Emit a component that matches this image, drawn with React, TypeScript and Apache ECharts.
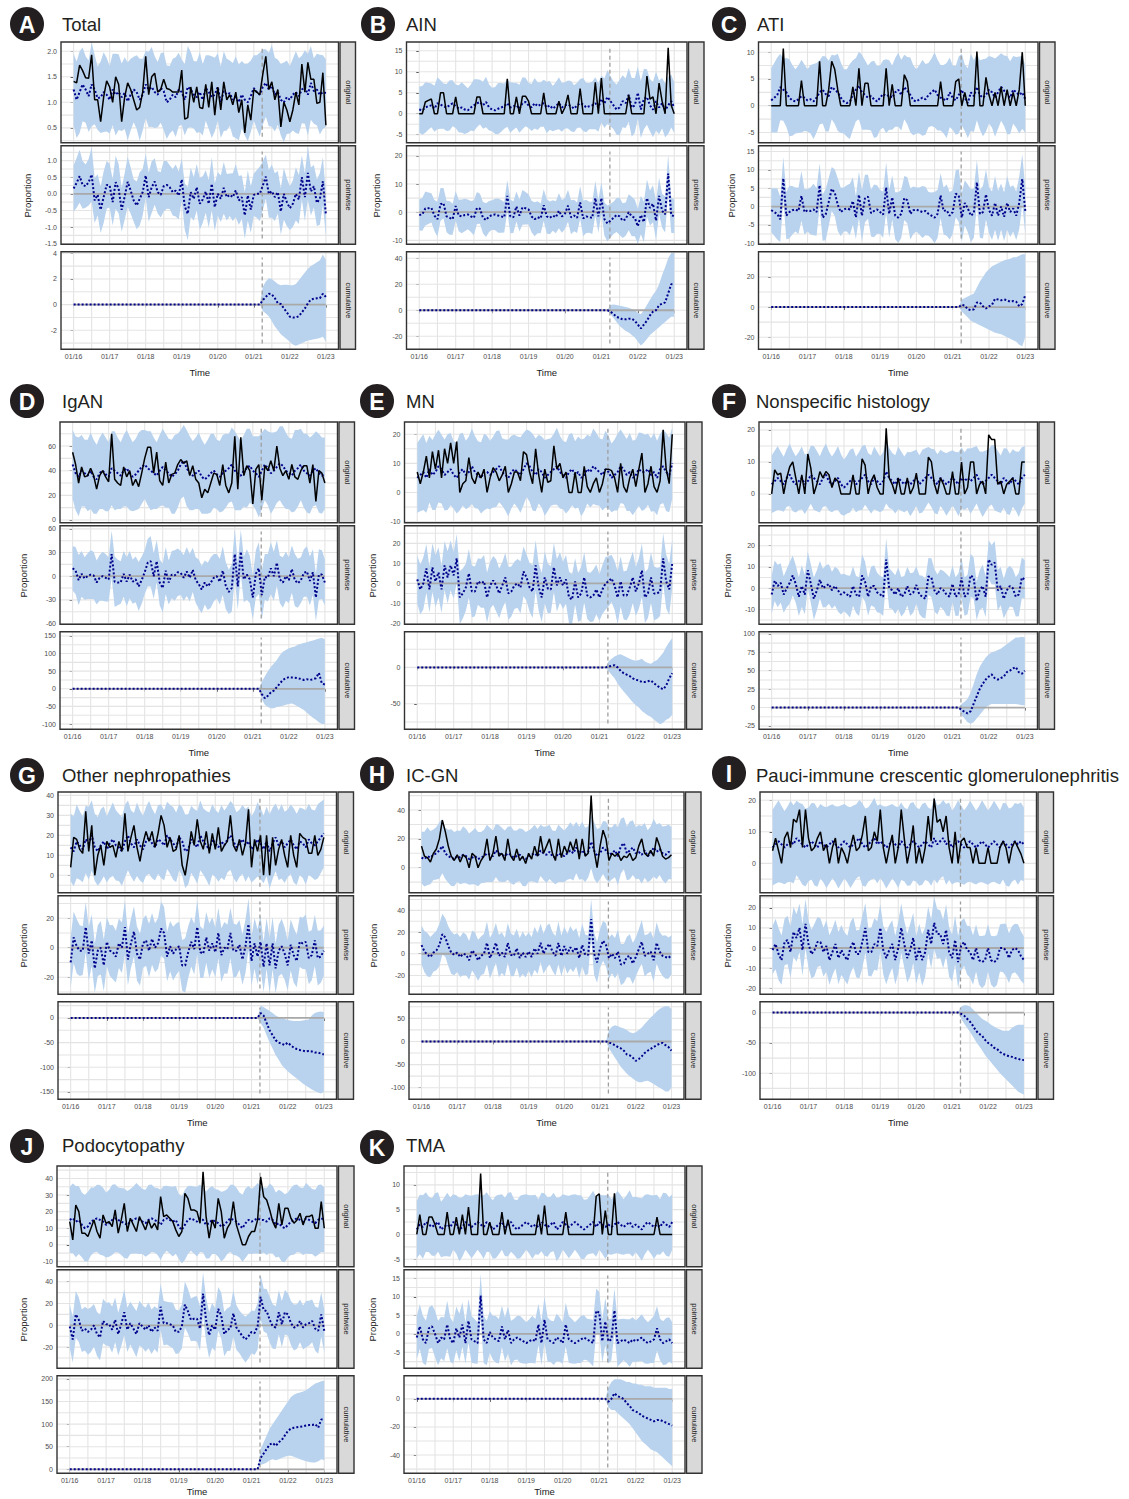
import React, { useEffect, useRef } from "react";
import * as echarts from "echarts";

const FONT = "'Liberation Sans', Arial, Helvetica, sans-serif";

// ---------- time axis ----------
const MONTH_TICKS = [0, 12, 24, 36, 48, 60, 72, 84];
const MONTH_LABELS = ["01/16", "01/17", "01/18", "01/19", "01/20", "01/21", "01/22", "01/23"];
const X_GRID = [0, 6, 12, 18, 24, 30, 36, 42, 48, 54, 60, 66, 72, 78, 84];
const X_MIN = -4.2;
const X_MAX = 88.2;
const INTERVENTION = 62.8;
const POST_START = 62;

const LETTERS = ["A", "B", "C", "D", "E", "F", "G", "H", "I", "J", "K"];
const TITLES = [
  "Total", "AIN", "ATI", "IgAN", "MN", "Nonspecific histology",
  "Other nephropathies", "IC-GN", "Pauci-immune crescentic glomerulonephritis",
  "Podocytopathy", "TMA",
];
const STRIP_LABELS = ["original", "pointwise", "cumulative"];

// ---------- A: Total ----------
const aObs = [1.41,1.38,1.73,1.62,1.48,1.47,1.93,1.05,1.05,0.62,
  1.10,1.42,1.30,1.00,1.50,1.35,0.62,1.10,1.38,1.25,
  1.05,0.85,0.90,1.20,1.90,1.15,1.50,1.57,1.20,1.25,
  1.45,1.27,1.25,1.20,1.20,1.20,1.63,0.67,0.70,1.30,
  1.00,1.30,0.90,0.88,1.35,0.90,1.40,0.75,1.30,0.85,
  1.40,1.05,1.15,0.95,1.20,0.80,1.05,0.40,0.95,0.65,
  1.25,1.20,1.15,1.55,1.90,1.25,1.40,1.05,1.25,0.52,
  1.00,0.85,0.62,0.85,1.20,0.95,1.75,1.20,1.78,1.45,
  1.45,0.98,1.00,1.58,0.55];
const aPred = [1.25,1.05,1.20,1.35,1.25,1.12,1.35,1.25,1.08,1.10,
  1.20,1.15,1.05,1.25,1.15,1.20,1.10,1.18,1.02,1.15,
  1.25,1.20,1.05,1.15,1.35,1.25,1.30,1.20,1.15,1.28,
  1.22,1.00,1.05,1.15,1.10,1.25,1.20,1.05,1.30,1.25,
  1.15,1.10,1.20,1.05,1.28,1.20,1.10,1.15,1.30,1.00,
  1.22,1.15,1.18,1.05,1.10,1.00,1.15,1.05,1.00,1.12,
  1.28,1.20,1.15,1.30,1.38,1.25,1.32,1.15,1.20,1.05,
  1.00,1.10,1.05,1.15,1.20,1.12,1.25,1.30,1.15,1.38,
  1.22,1.25,1.15,1.20,1.18];
const aHw = [0.70,0.75,0.80,0.72,0.65,0.70,0.82,0.68,0.62,0.70,
  0.78,0.72,0.66,0.70,0.80,0.74,0.66,0.70,0.76,0.70,
  0.64,0.72,0.80,0.70,0.66,0.74,0.78,0.70,0.64,0.68,
  0.76,0.72,0.66,0.70,0.78,0.72,0.64,0.70,0.80,0.74,
  0.66,0.70,0.78,0.70,0.64,0.72,0.80,0.72,0.66,0.70,
  0.78,0.70,0.64,0.72,0.80,0.74,0.66,0.70,0.76,0.70,
  0.64,0.72,0.82,0.74,0.66,0.72,0.80,0.72,0.64,0.70,
  0.78,0.72,0.66,0.70,0.80,0.74,0.66,0.72,0.80,0.72,
  0.64,0.70,0.78,0.72,0.66];
const aCumMean = [0,0.35,0.6,0.85,0.8,0.5,0.1,0.05,-0.3,-0.6,-0.95,-1.0,-1.0,-0.9,-0.6,-0.3,0.1,0.4,0.45,0.5,0.5,0.85,0.6];
const aCumHi = [0,1.4,1.8,2.05,2.0,1.8,1.6,1.5,1.55,1.55,1.5,1.5,1.6,1.9,2.2,2.5,2.8,3.0,3.15,3.3,3.45,3.9,3.5];
const aCumLo = [0,-0.5,-0.7,-0.9,-1.3,-1.7,-2.0,-2.3,-2.5,-2.7,-2.9,-3.1,-3.2,-3.1,-3.0,-2.9,-2.8,-2.75,-2.7,-2.65,-2.6,-2.5,-2.9];

// ---------- B: AIN ----------
const bObs = [0,0,2.8,3.2,3.5,0,0,5,5,0,
  0,0,4,0,0,0,0,0,0,4,
  4,0,0,0,0,0,0,0,0,8.3,
  0,0,4,0,4.2,4.2,3,0,0,0,
  0,5,0,0,0,0,3,0,1.5,4.5,
  0,0,0,6,0,0,0,0,7.5,0,
  8.5,0,0,0,0,0,0,0,0,4.5,
  0,0,0,0,0,9,3.5,4,0,7.3,
  3,0,15.7,2,0];
const bPred = [1.0,0.8,1.5,1.8,2.0,1.2,2.5,2.2,1.8,1.5,
  2.0,2.5,1.8,1.2,1.5,1.0,0.8,1.5,2.0,2.5,
  2.8,2.0,2.8,1.5,1.0,0.8,1.2,1.5,1.8,2.5,
  1.5,1.8,2.0,1.2,2.5,2.8,2.0,1.5,2.5,1.8,
  2.2,2.5,1.5,2.0,1.2,1.8,2.5,1.5,2.0,2.2,
  1.8,1.2,2.0,2.5,2.2,1.5,1.8,2.0,2.5,1.5,
  3.5,2.5,4.0,3.0,2.0,1.0,1.5,3.0,2.5,4.5,
  1.5,2.0,5.0,1.0,3.5,4.0,2.0,1.0,3.0,1.5,
  2.5,0.8,2.0,3.0,1.5];
const bHw = [5.5,5.8,6.0,5.6,5.2,5.5,6.2,5.8,5.4,5.6,
  6.0,5.5,5.2,5.6,6.0,5.8,5.3,5.5,6.2,5.7,
  5.3,5.6,6.0,5.5,5.2,5.6,6.1,5.8,5.4,5.6,
  6.0,5.6,5.3,5.7,6.2,5.8,5.4,5.6,6.0,5.7,
  5.3,5.6,6.1,5.8,5.4,5.7,6.2,5.8,5.5,5.7,
  6.0,5.6,5.4,5.8,6.3,5.9,5.5,5.7,6.2,5.8,
  5.6,5.9,6.4,6.0,5.7,6.0,6.6,6.2,5.9,6.4,
  7.0,6.5,6.2,6.8,7.2,6.6,6.2,6.6,7.0,6.4,
  6.0,6.4,6.8,6.3,6.0];
const bCumMean = [0,-1,-3,-5,-6,-7,-7,-6.5,-6.5,-8,-11,-14,-11,-8,-4,-1,0,4,5,6,13,20,20];
const bCumHi = [0,4,4.5,4,3.5,3,2.5,2,1,0,-2,-3,0,4,8,12,15,20,27,33,40,44,44];
const bCumLo = [0,-3,-6,-9,-12,-14,-16,-17,-19,-21,-24,-27,-25,-22,-19,-17,-15,-13,-11,-9,-7,-5,-5];

// ---------- C: ATI ----------
const cObs = [0,0,0,0,10.7,0,0,0,0,0,
  4.7,0,0,0,0,0,8.3,0,0,3.0,
  8.3,6.8,3.0,0,0,0,0,3.5,0,7.0,
  0,4.2,4.2,0,0,0,0,0,7.0,0,
  4.0,0,0,0,5.8,4.5,0,0,0,0,
  0,0,0,0,0,0,4.5,0,0,0,
  0,4.5,5.0,0,2.5,0,0,0,10.1,0,
  0,5.3,2.0,0,2.5,0,3.5,0,3.0,0,
  2.5,0,3.0,10.0,0];
const cPred = [1.0,1.5,2.0,3.5,3.0,2.5,1.5,1.0,0.8,1.2,
  1.8,1.5,1.0,1.2,0.8,1.5,2.5,3.0,2.2,1.8,
  3.5,3.0,2.5,1.5,0.8,0.5,0.8,2.0,3.0,3.8,
  2.5,2.0,1.5,1.8,1.2,0.8,1.5,2.2,1.8,2.0,
  1.5,2.5,3.0,2.0,3.5,2.8,2.0,1.0,0.8,1.2,
  1.5,1.2,2.0,2.5,3.0,2.0,1.5,1.2,1.0,2.5,
  1.5,1.0,2.0,3.0,1.5,0.5,2.5,1.8,3.5,2.0,
  1.5,2.0,3.0,2.5,1.5,2.5,3.5,2.8,2.0,1.5,
  3.0,2.5,2.0,2.5,1.2];
const cHw = [6.0,6.5,7.0,6.2,5.8,6.4,7.2,6.6,6.0,6.3,
  6.8,6.2,5.8,6.4,7.0,6.5,6.0,6.3,7.0,6.6,
  6.0,6.4,7.2,6.6,6.0,6.3,7.0,6.5,5.9,6.3,
  7.0,6.5,6.0,6.4,7.2,6.6,6.0,6.3,6.9,6.5,
  6.0,6.4,6.9,6.6,6.0,6.3,7.0,6.5,6.0,6.4,
  7.1,6.6,6.0,6.3,7.0,6.6,6.1,6.4,7.0,6.5,
  6.0,6.4,7.2,6.7,6.2,6.5,7.2,6.7,6.2,6.5,
  7.2,6.8,6.3,6.6,7.3,6.8,6.3,6.6,7.3,6.8,
  6.3,6.6,7.2,6.8,6.3];
const cCumMean = [0,1.5,1.0,-1.5,-2.0,-1.5,3.0,3.0,0.5,-1.0,0.5,1.5,5.5,5.0,4.5,5.0,4.5,3.5,4.0,3.5,0.5,2.0,8.0];
const cCumHi = [0,5,6,7,8,9,13,17,20,23,25,27,28,29,30,31,31.5,32,33,33,34,35,35];
const cCumLo = [0,-3,-5,-7,-9,-10,-11,-12,-13,-14,-15,-16,-17,-17.5,-18,-19,-20,-21,-22,-23,-25,-26,-20];

// ---------- D: IgAN ----------
const dObs = [55,45,30,43,35,36,42,36,25,36,
  40,35,31,70,33,30,28,43,35,40,
  28,33,27,38,50,59,59,38,55,32,
  28,47,30,37,38,45,49,46,48,36,
  44,33,30,18,25,22,30,38,37,28,
  45,28,22,30,68,25,67,36,44,40,
  13,41,45,16,44,40,48,40,60,42,
  36,40,33,45,35,33,40,44,44,30,
  45,15,40,38,30];
const dPred = [45,38,35,40,38,36,40,35,33,38,
  40,37,35,42,40,38,36,40,42,38,
  35,37,40,43,45,42,40,38,36,40,
  43,40,38,35,37,40,45,48,42,38,
  36,38,40,35,33,35,38,40,37,35,
  38,40,42,45,40,38,36,40,42,44,
  40,38,35,40,45,42,38,40,43,46,
  44,40,38,36,40,42,45,40,38,36,
  40,42,38,36,38];
const dHw = [28,30,32,29,27,29,31,30,28,29,
  31,30,28,30,32,29,27,29,31,30,
  28,29,31,30,28,30,32,29,27,29,
  31,30,28,30,32,30,28,29,31,30,
  28,29,31,30,28,30,32,30,28,29,
  31,30,28,30,32,30,28,29,32,30,
  28,30,33,31,29,30,33,31,29,30,
  32,31,29,30,33,31,29,30,32,31,
  29,30,32,31,29];
const dCumMean = [0,-15,-27,-20,-10,-5,5,15,25,30,33,32,31,30,28,25,27,25,27,30,45,15,12];
const dCumHi = [0,20,35,50,62,72,82,95,105,110,115,118,120,125,128,130,132,135,137,140,143,145,140];
const dCumLo = [0,-30,-45,-52,-55,-55,-52,-50,-48,-45,-43,-42,-45,-50,-55,-60,-68,-75,-82,-88,-95,-100,-100];

// ---------- E: MN ----------
const eObs = [7,3,7,12.5,5,14,8,14.5,5,15,
  10,17,10,17.5,0,3,4,12,5,3,
  7,5,8,0,5,8.5,7,4,6,9,
  0,3,7,7,4,14,13,7,3,15,
  6,0,8,3.5,4,16,8,10,5,7,
  0,0,7,0,0,9,2,0,3,5,
  0,3,8,8,7.5,5,0,10,2,0,
  5,8,2,8,13.5,0,3,9,2,0,
  4,21.5,8,3,20];
const ePred = [5,6,7,5,8,6,7,9,8,6,
  7,8,6,5,7,8,6,7,9,7,
  6,5,7,7,6,7,8,9,7,6,
  5,7,8,7,6,8,10,9,7,6,
  8,7,5,6,7,8,9,7,6,5,
  7,8,6,7,5,6,8,7,9,8,
  7,6,8,7,5,6,7,9,8,6,
  7,5,6,8,7,7,8,6,7,5,
  8,9,7,6,10];
const eHw = [12,12.5,13,12,11.5,12,13,12.5,11.8,12.2,
  13,12.4,11.6,12.2,13.2,12.5,11.8,12.2,13,12.4,
  11.6,12.2,13.2,12.5,11.8,12.2,13,12.4,11.6,12.2,
  13.2,12.5,11.8,12.2,13,12.4,11.6,12.2,13.2,12.5,
  11.8,12.2,13,12.4,11.6,12.2,13.2,12.5,11.8,12.2,
  13,12.4,11.6,12.2,13.2,12.5,11.8,12.2,13,12.4,
  11.6,12.2,13.2,12.5,11.8,12.2,13.2,12.6,12,12.4,
  13.4,12.8,12.2,12.6,13.4,12.8,12.2,12.6,13.4,12.8,
  12.2,12.6,13.4,12.8,12.2];
const eCumMean = [0,1,2,3,0,-5,-8,-10,-12,-15,-17,-18,-20,-20,-19,-18,-22,-25,-28,-30,-25,-15,-8];
const eCumHi = [0,8,12,15,17,18,16,14,12,10,9,10,12,8,6,5,8,10,15,20,28,35,40];
const eCumLo = [0,-5,-10,-15,-22,-28,-33,-38,-43,-48,-52,-55,-60,-63,-66,-68,-72,-75,-78,-76,-72,-70,-65];

// ---------- F: Nonspecific histology ----------
const fObs = [0,7.5,6,6.5,0,5,8.5,10,5,0,
  6,0,12.5,8,0,3,7,5,7,6,
  2,5,4,0,0,0,0,6,0,0,
  11,9,0,4,6,2,0,0,20.5,5,
  3,0,5,0,0,5,0,2,6.5,0,
  0,0,11.5,10,3,0,5,3,0,0,
  7,0,0,10,0,2,10,10,0,3,
  4,0,18.5,17,17,3,4,0,3,4,
  5,0,0,10,10];
const fPred = [3,4,5,4,3,5,6,4,3,4,
  5,3,4,6,5,4,3,5,6,4,
  3,4,5,3,2,3,4,5,3,4,
  5,6,4,3,5,4,3,4,7,5,
  4,3,5,4,3,4,3,4,5,3,
  4,5,6,5,4,3,5,4,3,4,
  5,4,3,5,4,5,4,5,6,4,
  3,4,5,6,5,4,3,5,4,3,
  5,4,3,5,6];
const fHw = [9,9.5,10,9.2,8.6,9,9.8,9.4,8.8,9.1,
  9.8,9.3,8.7,9.1,10,9.4,8.8,9.1,9.8,9.3,
  8.7,9.1,10,9.4,8.8,9.1,9.8,9.3,8.7,9.1,
  10,9.4,8.8,9.1,9.8,9.3,8.7,9.1,10,9.4,
  8.8,9.1,9.8,9.3,8.7,9.1,10,9.4,8.8,9.1,
  9.8,9.3,8.7,9.1,10,9.4,8.8,9.1,9.8,9.3,
  8.7,9.1,10,9.5,9,9.3,10.2,9.6,9,9.3,
  10.2,9.6,9,9.3,10.2,9.6,9,9.3,10.2,9.6,
  9,9.3,10.2,9.6,9];
const fCumMean = [0,-3,-6,-8,-5,5,15,25,32,38,42,45,40,38,40,42,48,50,53,55,48,46,50];
const fCumHi = [0,5,8,12,20,32,45,55,62,68,72,75,76,78,80,83,86,89,92,95,95,96,95];
const fCumLo = [0,-10,-15,-20,-22,-20,-15,-10,-5,0,3,5,5,5,5,5,5,5,5,5,4,3,3];

// ---------- G: Other nephropathies ----------
const gObs = [4,19,18,13,11,32,12,25,0,10,
  15,5,17,14,15,9,17,12,31,12,
  19,25,14,7,16,22,17,22,14,21,
  30,25,14,19,12,13,20,5,0,10,
  22,15,28,17,13,22,11,21,13,24,
  12,15,17,30,15,12,18,10,16,33,
  4,18,12,20,0,20,0,19,5,13,
  18,10,4,20,10,4,21,19,18,11,
  11,20,10,13,19];
const gPred = [14,12,17,15,13,18,16,20,14,12,
  15,17,13,16,18,15,14,12,17,20,
  16,14,18,15,13,17,19,16,14,18,
  17,15,20,18,16,14,19,17,12,13,
  18,16,14,20,17,15,13,18,16,14,
  17,15,18,20,17,14,16,18,15,17,
  13,15,18,16,13,17,12,16,19,15,
  17,14,16,18,15,13,17,16,14,18,
  16,15,17,19,21];
const gHw = [17,17.5,18.5,17.2,16.5,17,18.2,17.6,16.8,17.2,
  18.2,17.5,16.6,17.2,18.4,17.6,16.8,17.2,18.2,17.5,
  16.6,17.2,18.4,17.6,16.8,17.2,18.2,17.5,16.6,17.2,
  18.4,17.6,16.8,17.2,18.2,17.5,16.6,17.2,18.4,17.6,
  16.8,17.2,18.2,17.5,16.6,17.2,18.4,17.6,16.8,17.2,
  18.2,17.5,16.6,17.2,18.4,17.6,16.8,17.2,18.2,17.5,
  16.6,17.2,18.6,17.8,17,17.4,18.6,17.8,17,17.4,
  18.6,17.8,17,17.4,18.6,17.8,17,17.4,18.6,17.8,
  17,17.4,18.6,17.8,17];
const gCumMean = [0,10,5,-10,-25,-35,-45,-50,-52,-55,-50,-55,-60,-63,-65,-66,-68,-67,-68,-70,-70,-72,-74];
const gCumHi = [0,25,22,18,14,10,5,2,0,-2,-4,-5,-6,-6,-6,-5,-4,-3,5,10,12,13,12];
const gCumLo = [0,-10,-20,-35,-50,-62,-75,-85,-95,-102,-108,-113,-118,-123,-128,-133,-137,-141,-145,-148,-151,-153,-150];

// ---------- H: IC-GN ----------
const hObs = [15,8,7,4,10,13,20,33,25,15,
  8,5,9,4,9,7,0,10,8,0,
  5,8,20,5,10,22,8,10,5,20,
  8,5,13,5,8,3,10,6,15,8,
  22,10,15,20,10,5,20,7,15,10,
  18,12,20,6,20,8,10,50,12,0,
  15,26,20,5,10,8,10,5,8,7,
  10,5,7,15,20,10,8,12,8,21,
  15,8,6,7,9];
const hPred = [7,6,8,7,9,10,12,15,10,8,
  7,6,8,7,9,8,6,7,8,6,
  7,8,10,9,8,12,10,9,8,10,
  9,7,8,9,7,6,8,9,10,8,
  12,10,9,11,8,7,10,9,8,10,
  12,10,14,10,12,9,11,18,12,8,
  10,14,12,9,10,12,8,15,17,10,
  12,14,10,11,9,12,8,10,14,11,
  13,10,9,11,10];
const hHw = [18,19,20,18.5,17.5,18.2,19.6,18.8,17.8,18.4,
  19.6,18.8,17.8,18.4,19.8,18.8,17.8,18.4,19.6,18.8,
  17.8,18.4,19.8,18.8,17.8,18.4,19.6,18.8,17.8,18.4,
  19.8,18.8,17.8,18.4,19.6,18.8,17.8,18.4,19.8,18.8,
  17.8,18.4,19.6,18.8,17.8,18.4,19.8,18.8,17.8,18.4,
  19.6,18.8,17.8,18.4,19.8,18.8,17.8,18.4,19.6,18.8,
  17.8,18.4,20,19,18,18.6,20,19,18,18.6,
  20,19,18,18.6,20,19,18,18.6,20,19,
  18,18.6,20,19,18];
const hCumMean = [0,-2,-5,-8,-12,-15,-20,-28,-30,-35,-42,-38,-32,-25,-20,-16,-12,-8,-5,-3,-8,-12,-20];
const hCumHi = [0,25,32,35,33,30,28,25,20,18,20,25,30,38,45,52,58,65,70,74,76,76,70];
const hCumLo = [0,-15,-25,-35,-45,-55,-62,-70,-75,-80,-85,-88,-88,-86,-85,-88,-92,-96,-100,-104,-108,-108,-100];

// ---------- I: Pauci-immune crescentic GN ----------
const iObs = [4,8,4,0,8,10,5,14,13,17,
  5,17,8,4,5,8,10,4,6,0,
  5,8,0,5,3,0,5,9,4,5,
  9,15,4,5,10,7,17,5,0,5,
  9,0,5,17,8,0,5,12,0,5,
  0,5,15,7,20.5,13,14,10,15,5,
  0,10,0,7,8,5,5,0,5,0,
  0,0,5,0,0,0,5,7,5,0,
  5,7,5,3,0];
const iPred = [5,6,7,6,5,6,7,6,8,7,
  6,5,6,7,6,5,7,6,5,6,
  7,6,5,6,7,6,5,6,7,8,
  6,5,6,7,8,6,7,6,5,6,
  7,6,5,7,6,5,6,7,6,5,
  6,7,6,5,8,6,7,8,6,7,
  5,6,7,6,5,6,7,6,5,6,
  7,6,5,6,7,6,5,7,6,5,
  6,7,6,7,6];
const iHw = [12,12.5,13,12.2,11.6,12,12.8,12.4,11.8,12.1,
  12.8,12.3,11.7,12.1,13,12.4,11.8,12.1,12.8,12.3,
  11.7,12.1,13,12.4,11.8,12.1,12.8,12.3,11.7,12.1,
  13,12.4,11.8,12.1,12.8,12.3,11.7,12.1,13,12.4,
  11.8,12.1,12.8,12.3,11.7,12.1,13,12.4,11.8,12.1,
  12.8,12.3,11.7,12.1,13,12.4,11.8,12.1,12.8,12.3,
  11.7,12.1,13,12.4,11.8,12.1,12.8,12.3,11.7,12.1,
  13,12.4,11.8,12.1,12.8,12.3,11.7,12.1,13,12.4,
  11.8,12.1,12.8,12.3,11.7];
const iCumMean = [0,-2,-5,-10,-15,-22,-30,-35,-38,-45,-50,-53,-58,-60,-65,-68,-70,-72,-73,-75,-76,-78,-78];
const iCumHi = [0,10,12,12,10,5,0,-5,-10,-13,-16,-20,-23,-26,-28,-30,-30,-30,-25,-22,-20,-20,-20];
const iCumLo = [0,-10,-18,-25,-32,-40,-48,-55,-62,-70,-76,-82,-88,-94,-100,-105,-110,-115,-120,-125,-130,-133,-135];

// ---------- J: Podocytopathy ----------
const jObs = [14,3,24,20,7,7,5,10,15,8,
  4,18,13,14,11,21,7,15,25,8,
  16,12,8,17,13,9,15,10,13,9,
  29,17,18,16,14,9,5,8,31,28,
  21,21,20,13,44,17,4,15,10,28,
  20,4,10,13,26,12,6,0,0,5,
  8,8,15,41,29,27,21,14,10,25,
  12,22,22,16,13,15,19,12,17,17,
  18,10,10,26,10];
const jPred = [15,16,14,15,12,10,11,14,15,16,
  15,14,12,13,15,16,15,14,13,12,
  14,15,16,15,14,13,15,16,15,14,
  12,15,16,15,14,15,11,9,12,15,
  16,15,14,16,15,12,13,15,14,13,
  11,12,14,16,15,14,12,10,13,15,
  14,15,16,15,15,14,16,15,12,13,
  11,10,12,14,15,16,15,14,16,15,
  14,13,15,16,15];
const jHw = [20,21,21.5,20.5,19.5,20,21,20.5,19.6,20.2,
  21,20.4,19.6,20.2,21.2,20.5,19.6,20.2,21,20.4,
  19.6,20.2,21.2,20.5,19.6,20.2,21,20.4,19.6,20.2,
  21.2,20.5,19.6,20.2,21,20.4,19.6,20.2,21.2,20.5,
  19.6,20.2,21,20.4,19.6,20.2,21.2,20.5,19.6,20.2,
  21,20.4,19.6,20.2,21.2,20.5,19.6,20.2,21,20.4,
  19.6,20.2,21.2,20.5,19.6,20.2,21,20.4,19.6,20.2,
  21.2,20.5,19.6,20.2,21,20.4,19.6,20.2,21.2,20.5,
  19.6,20.2,21,20.4,19.6];
const jCumMean = [0,25,35,45,55,58,52,60,65,75,85,90,92,93,94,95,97,98,98,100,92,110,110];
const jCumHi = [0,45,60,75,90,100,110,120,130,140,150,160,165,168,170,172,175,180,185,190,192,195,196];
const jCumLo = [0,10,12,15,20,22,20,22,25,28,30,30,28,25,22,20,18,16,15,15,18,22,20];

// ---------- K: TMA ----------
const kObs = [0,4,0,0,3.5,3.5,2,0,0,0,
  4.5,0,0,3.5,0,4,0,5.5,0,0,
  0,12.3,0,0,2.5,0,0,0,4.5,0,
  3,0,0,0,0,0,0,0,0,0,
  4,0,5.8,0,0,0,0,0,0,4.5,
  0,0,0,0,0,0,0,0,0,7.7,
  8.2,0,4.8,0,0,8.3,0,0,0,0,
  0,0,0,0,0,0,0,0,0,3.5,
  0,0,0,0,0];
const kPred = [1.0,2.0,1.5,2.5,2.0,1.5,2.0,2.5,1.0,1.5,
  2.0,1.5,2.5,2.0,1.0,1.5,2.5,2.0,1.5,2.0,
  2.5,2.0,1.5,2.5,2.0,1.0,1.5,2.0,2.5,1.5,
  2.0,2.5,1.5,1.0,1.5,2.0,2.5,2.0,1.5,2.0,
  1.5,2.5,2.0,1.5,2.0,2.5,1.0,1.5,2.5,2.0,
  1.5,2.0,2.5,2.0,1.5,1.0,1.5,2.0,2.5,1.5,
  2.5,2.0,1.5,2.0,1.5,2.0,2.5,2.0,1.5,2.0,
  2.5,1.5,2.0,1.5,1.0,2.0,2.5,2.0,1.5,2.0,
  1.5,2.5,2.0,1.5,2.5];
const kHw = [5.8,6,6.4,6,5.6,5.8,6.3,6,5.6,5.9,
  6.4,6,5.6,5.9,6.4,6,5.6,5.9,6.3,6,
  5.6,5.9,6.4,6,5.6,5.9,6.3,6,5.6,5.9,
  6.4,6,5.6,5.9,6.3,6,5.6,5.9,6.4,6,
  5.6,5.9,6.3,6,5.6,5.9,6.4,6,5.6,5.9,
  6.3,6,5.6,5.9,6.4,6,5.6,5.9,6.3,6,
  5.6,5.9,6.4,6,5.6,5.9,6.3,6,5.6,5.9,
  6.4,6,5.6,5.9,6.3,6,5.6,5.9,6.4,6,
  5.6,5.9,6.3,6,5.6];
const kCumMean = [0,-2,0,4,2,1,0,-3,-5,-8,-9,-10,-12,-13,-14,-15,-16,-15,-15,-16,-17,-18,-19];
const kCumHi = [0,8,12,14,14,14,13,12,12,11,11,10,10,9,9,9,8,8,8,8,8,7,7];
const kCumLo = [0,-6,-8,-8,-10,-12,-14,-16,-18,-21,-24,-27,-30,-32,-34,-36,-37,-38,-40,-42,-44,-46,-48];

// ---------- axis ranges and tick breaks ----------
const ORIG_RANGE = [[0.21, 2.18], [-6.9, 17.1], [-6.9, 11.9], [-2.2, 79.5], [-10.4, 24.2], [-9, 22.5], [-8.7, 41.7], [-17.3, 52.5], [-9.3, 22.6], [-13.2, 47.5], [-6.5, 13.8]];
const ORIG_BREAKS = [[0.5, 1, 1.5, 2], [-5, 0, 5, 10, 15], [-5, 0, 5, 10], [0, 20, 40, 60], [-10, 0, 10, 20], [0, 10, 20], [0, 10, 20, 30, 40], [0, 20, 40], [0, 10, 20], [-10, 0, 10, 20, 30, 40], [-5, 0, 5, 10]];
const PW_RANGE = [[-1.52, 1.45], [-11.4, 23.6], [-10.3, 16.6], [-61, 64], [-20.4, 28.8], [-17, 29.4], [-31.6, 35.3], [-37.4, 53.5], [-23, 26], [-39.4, 51], [-9.3, 17.3]];
const PW_BREAKS = [[-1.5, -1, -0.5, 0, 0.5, 1], [-10, 0, 10, 20], [-10, -5, 0, 5, 10, 15], [-60, -30, 0, 30, 60], [-20, -10, 0, 10, 20], [-10, 0, 10, 20], [-20, 0, 20], [-20, 0, 20, 40], [-20, -10, 0, 10, 20], [-20, 0, 20, 40], [-5, 0, 5, 10, 15]];
const CUM_RANGE = [[-3.48, 4.12], [-30, 45], [-28, 36.7], [-115, 162], [-85, 49], [-29.5, 103], [-165, 33], [-125, 86], [-143, 18], [-8.8, 207], [-53, 16.5]];
const CUM_BREAKS = [[-2, 0, 2, 4], [-20, 0, 20, 40], [-20, 0, 20], [-100, -50, 0, 50, 100, 150], [-50, 0], [-25, 0, 25, 50, 75, 100], [-150, -100, -50, 0], [-100, -50, 0, 50], [-100, -50, 0], [0, 50, 100, 150, 200], [-40, -20, 0]];
const DECIMALS = [1, 0, 0, 0, 0, 0, 0, 0, 0, 0, 0];

const PANEL_DATA = [
  { obs: aObs, pred: aPred, hw: aHw, cm: aCumMean, cl: aCumLo, ch: aCumHi },
  { obs: bObs, pred: bPred, hw: bHw, cm: bCumMean, cl: bCumLo, ch: bCumHi },
  { obs: cObs, pred: cPred, hw: cHw, cm: cCumMean, cl: cCumLo, ch: cCumHi },
  { obs: dObs, pred: dPred, hw: dHw, cm: dCumMean, cl: dCumLo, ch: dCumHi },
  { obs: eObs, pred: ePred, hw: eHw, cm: eCumMean, cl: eCumLo, ch: eCumHi },
  { obs: fObs, pred: fPred, hw: fHw, cm: fCumMean, cl: fCumLo, ch: fCumHi },
  { obs: gObs, pred: gPred, hw: gHw, cm: gCumMean, cl: gCumLo, ch: gCumHi },
  { obs: hObs, pred: hPred, hw: hHw, cm: hCumMean, cl: hCumLo, ch: hCumHi },
  { obs: iObs, pred: iPred, hw: iHw, cm: iCumMean, cl: iCumLo, ch: iCumHi },
  { obs: jObs, pred: jPred, hw: jHw, cm: jCumMean, cl: jCumLo, ch: jCumHi },
  { obs: kObs, pred: kPred, hw: kHw, cm: kCumMean, cl: kCumLo, ch: kCumHi },
];

// ---------- layout (pixels) ----------
const BOX_LEFT = [61, 406.5, 758.5, 60, 404.5, 759, 58, 409, 760, 57, 404];
const BOX_RIGHT = [338.5, 687, 1038, 337.5, 685, 1037.5, 336.5, 684, 1036.5, 337, 685];
const ROW_DY = [0, 380, 750, 1124];
const SUB_TOP = [42, 145.7, 251.7];
const SUB_BOTTOM = [142.7, 244.3, 349.3];
const LETTER_POS = [[27, 24], [378, 24], [729, 24], [27, 401], [377, 401], [729, 401], [27, 775], [377, 774], [729, 773], [27, 1146], [377, 1147]];
const TITLE_X = [62, 406, 757, 62, 406, 756, 62, 406, 756, 62, 406];
const TITLE_Y = [24, 401, 775, 1145];
const YLAB_X = [27, 376, 731, 23, 372, 727, 23, 373, 727, 23, 372];
const TIME_GAP = [23, 23, 23, 18];

const BAND_COLOR = "#b9d3ee";
const PRED_COLOR = "#00008b";
const ZERO_COLOR = "#a9a9a9";
const GRID_COLOR = "#e4e4e4";
const BORDER_COLOR = "#333333";
const STRIP_FILL = "#d9d9d9";

function yGridValues(breaks: number[], range: number[]) {
  const step = breaks.length > 1 ? breaks[1] - breaks[0] : 10;
  const out: number[] = [];
  const first = breaks[0] - step;
  const last = breaks[breaks.length - 1] + step;
  for (let v = first; v <= last + 1e-9; v += step / 2) {
    const r = Math.round(v * 1000) / 1000;
    if (r >= range[0] && r <= range[1]) out.push(r);
  }
  return out;
}

function buildOption() {
  const grid: any[] = [];
  const xAxis: any[] = [];
  const yAxis: any[] = [];
  const series: any[] = [];
  const graphic: any[] = [];

  PANEL_DATA.forEach((p, pi) => {
    const row = Math.floor(pi / 3);
    const dy = ROW_DY[row];
    const left = BOX_LEFT[pi];
    const right = BOX_RIGHT[pi];
    const n = p.obs.length;
    const xs = p.obs.map((_, i) => i);
    const eff = p.obs.map((v, i) => v - p.pred[i]);
    const postXs = p.cm.map((_, k) => POST_START + k);
    const cumFull = xs.map((i) => (i < POST_START ? 0 : p.cm[i - POST_START]));

    const subs = [
      {
        range: ORIG_RANGE[pi], breaks: ORIG_BREAKS[pi], dec: DECIMALS[pi],
        bx: xs, blo: p.pred.map((v, i) => v - p.hw[i]), bhi: p.pred.map((v, i) => v + p.hw[i]),
        dotted: p.pred, solid: p.obs, zero: false,
      },
      {
        range: PW_RANGE[pi], breaks: PW_BREAKS[pi], dec: DECIMALS[pi],
        bx: xs, blo: eff.map((v, i) => v - p.hw[i]), bhi: eff.map((v, i) => v + p.hw[i]),
        dotted: eff, solid: null as any, zero: true,
      },
      {
        range: CUM_RANGE[pi], breaks: CUM_BREAKS[pi], dec: 0,
        bx: postXs, blo: p.cl, bhi: p.ch,
        dotted: cumFull, solid: null as any, zero: true,
      },
    ];

    subs.forEach((s, si) => {
      const gi = grid.length;
      const top = SUB_TOP[si] + dy;
      const bottom = SUB_BOTTOM[si] + dy;
      const range = s.range;
      const isBottom = si === 2;
      grid.push({
        left, top, width: right - left, height: bottom - top,
        show: false, containLabel: false, outerBoundsMode: "none",
      });
      xAxis.push({
        type: "value", gridIndex: gi, min: X_MIN, max: X_MAX,
        axisLine: { show: false }, splitLine: { show: false },
        axisTick: {
          show: isBottom, customValues: MONTH_TICKS, length: 3,
          lineStyle: { color: BORDER_COLOR, width: 1 },
        },
        axisLabel: {
          show: isBottom, customValues: MONTH_TICKS, fontSize: 7, color: "#4d4d4d",
          fontFamily: FONT, margin: 4,
          formatter: (v: number) => {
            const k = MONTH_TICKS.indexOf(Math.round(v));
            return k >= 0 ? MONTH_LABELS[k] : "";
          },
        },
      });
      const dec = s.dec;
      yAxis.push({
        type: "value", gridIndex: gi, min: range[0], max: range[1],
        axisLine: { show: false }, splitLine: { show: false },
        axisTick: {
          show: true, customValues: s.breaks, length: 3,
          lineStyle: { color: BORDER_COLOR, width: 1 },
        },
        axisLabel: {
          show: true, customValues: s.breaks, fontSize: 7, color: "#4d4d4d",
          fontFamily: FONT, margin: 4,
          formatter: (v: number) => {
            const t = dec ? v.toFixed(dec) : String(Math.round(v));
            return t === "-0" ? "0" : t;
          },
        },
      });

      const ys = yGridValues(s.breaks, range);
      // background grid lines
      series.push({
        type: "custom", xAxisIndex: gi, yAxisIndex: gi, z: 1, silent: true,
        data: [[X_GRID[1], (range[0] + range[1]) / 2]],
        renderItem: (params: any, api: any) => {
          if (params.dataIndex !== 0) return null;
          const children: any[] = [];
          X_GRID.forEach((gx) => {
            const a = api.coord([gx, range[0]]);
            const b = api.coord([gx, range[1]]);
            children.push({ type: "line", shape: { x1: a[0], y1: a[1], x2: b[0], y2: b[1] }, style: { stroke: GRID_COLOR, lineWidth: 1.1 } });
          });
          ys.forEach((gy) => {
            const a = api.coord([X_MIN, gy]);
            const b = api.coord([X_MAX, gy]);
            children.push({ type: "line", shape: { x1: a[0], y1: a[1], x2: b[0], y2: b[1] }, style: { stroke: GRID_COLOR, lineWidth: 1.1 } });
          });
          return { type: "group", children };
        },
      });
      // credible band
      const bx = s.bx, blo = s.blo, bhi = s.bhi;
      series.push({
        type: "custom", xAxisIndex: gi, yAxisIndex: gi, z: 2, silent: true, clip: true,
        data: [[bx[0], blo[0]]],
        renderItem: (params: any, api: any) => {
          if (params.dataIndex !== 0) return null;
          const pts: number[][] = [];
          for (let k = 0; k < bx.length; k++) pts.push(api.coord([bx[k], blo[k]]));
          for (let k = bx.length - 1; k >= 0; k--) pts.push(api.coord([bx[k], bhi[k]]));
          return { type: "polygon", shape: { points: pts }, style: { fill: BAND_COLOR } };
        },
      });
      // zero reference
      if (s.zero) {
        series.push({
          type: "line", xAxisIndex: gi, yAxisIndex: gi, z: 3, silent: true,
          symbol: "none", data: [[0, 0], [n - 1, 0]],
          lineStyle: { color: ZERO_COLOR, width: 1.8 },
        });
      }
      // intervention
      const inset = (range[1] - range[0]) * 0.06;
      series.push({
        type: "custom", xAxisIndex: gi, yAxisIndex: gi, z: 4, silent: true,
        data: [[INTERVENTION, (range[0] + range[1]) / 2]],
        renderItem: (params: any, api: any) => {
          const a = api.coord([INTERVENTION, range[0] + inset]);
          const b = api.coord([INTERVENTION, range[1] - inset]);
          return { type: "line", shape: { x1: a[0], y1: a[1], x2: b[0], y2: b[1] }, style: { stroke: "#9e9e9e", lineWidth: 1.3, lineDash: [4, 3] } };
        },
      });
      // predicted / effect (dotted)
      series.push({
        type: "line", xAxisIndex: gi, yAxisIndex: gi, z: 5, silent: true,
        symbol: "none", data: s.dotted.map((v: number, i: number) => [i, v]),
        lineStyle: { color: PRED_COLOR, width: 2, type: [2, 2] },
      });
      // observed
      if (s.solid) {
        series.push({
          type: "line", xAxisIndex: gi, yAxisIndex: gi, z: 6, silent: true,
          symbol: "none", data: s.solid.map((v: number, i: number) => [i, v]),
          lineStyle: { color: "#000000", width: 1.5 },
        });
      }

      // panel border and strip
      graphic.push({
        type: "rect", z: 100, silent: true,
        shape: { x: left, y: top, width: right - left, height: bottom - top },
        style: { fill: "none", stroke: BORDER_COLOR, lineWidth: 1.4 },
      });
      graphic.push({
        type: "rect", z: 100, silent: true,
        shape: { x: right + 1.5, y: top, width: 15.5, height: bottom - top },
        style: { fill: STRIP_FILL, stroke: BORDER_COLOR, lineWidth: 1.4 },
      });
      graphic.push({
        type: "text", z: 101, silent: true,
        x: right + 9.5, y: (top + bottom) / 2, rotation: -Math.PI / 2,
        style: {
          text: STRIP_LABELS[si], fill: "#1a1a1a", fontSize: 7.5, fontFamily: FONT,
          align: "center", verticalAlign: "middle", textAlign: "center", textVerticalAlign: "middle",
        },
      });
    });

    // letter badge + title
    const [cx, cy] = LETTER_POS[pi];
    graphic.push({ type: "circle", z: 100, silent: true, shape: { cx, cy, r: 17 }, style: { fill: "#231f20" } });
    graphic.push({
      type: "text", z: 101, silent: true, x: cx, y: cy + 1,
      style: {
        text: LETTERS[pi], fill: "#ffffff", fontSize: 23, fontWeight: "bold", fontFamily: FONT,
        align: "center", verticalAlign: "middle", textAlign: "center", textVerticalAlign: "middle",
      },
    });
    graphic.push({
      type: "text", z: 101, silent: true, x: TITLE_X[pi], y: TITLE_Y[row],
      style: {
        text: TITLES[pi], fill: "#231f20", fontSize: 18.5, fontFamily: FONT,
        align: "left", verticalAlign: "middle", textAlign: "left", textVerticalAlign: "middle",
      },
    });
    // axis titles
    graphic.push({
      type: "text", z: 101, silent: true,
      x: YLAB_X[pi], y: (SUB_TOP[0] + SUB_BOTTOM[2]) / 2 + dy, rotation: Math.PI / 2,
      style: {
        text: "Proportion", fill: "#1a1a1a", fontSize: 9.5, fontFamily: FONT,
        align: "center", verticalAlign: "middle", textAlign: "center", textVerticalAlign: "middle",
      },
    });
    graphic.push({
      type: "text", z: 101, silent: true,
      x: (left + right) / 2, y: SUB_BOTTOM[2] + dy + TIME_GAP[row],
      style: {
        text: "Time", fill: "#1a1a1a", fontSize: 9.5, fontFamily: FONT,
        align: "center", verticalAlign: "middle", textAlign: "center", textVerticalAlign: "middle",
      },
    });
  });

  return {
    animation: false,
    backgroundColor: "#ffffff",
    textStyle: { fontFamily: FONT },
    grid, xAxis, yAxis, series, graphic,
  };
}

export default function App() {
  const ref = useRef<HTMLDivElement | null>(null);
  useEffect(() => {
    if (!ref.current) return;
    const chart = echarts.init(ref.current, undefined, { renderer: "svg" });
    chart.setOption(buildOption() as any);
    return () => {
      chart.dispose();
    };
  }, []);
  return (
    <div
      ref={ref}
      style={{ position: "absolute", left: 0, top: 0, width: 1129, height: 1499, background: "#ffffff" }}
    />
  );
}
